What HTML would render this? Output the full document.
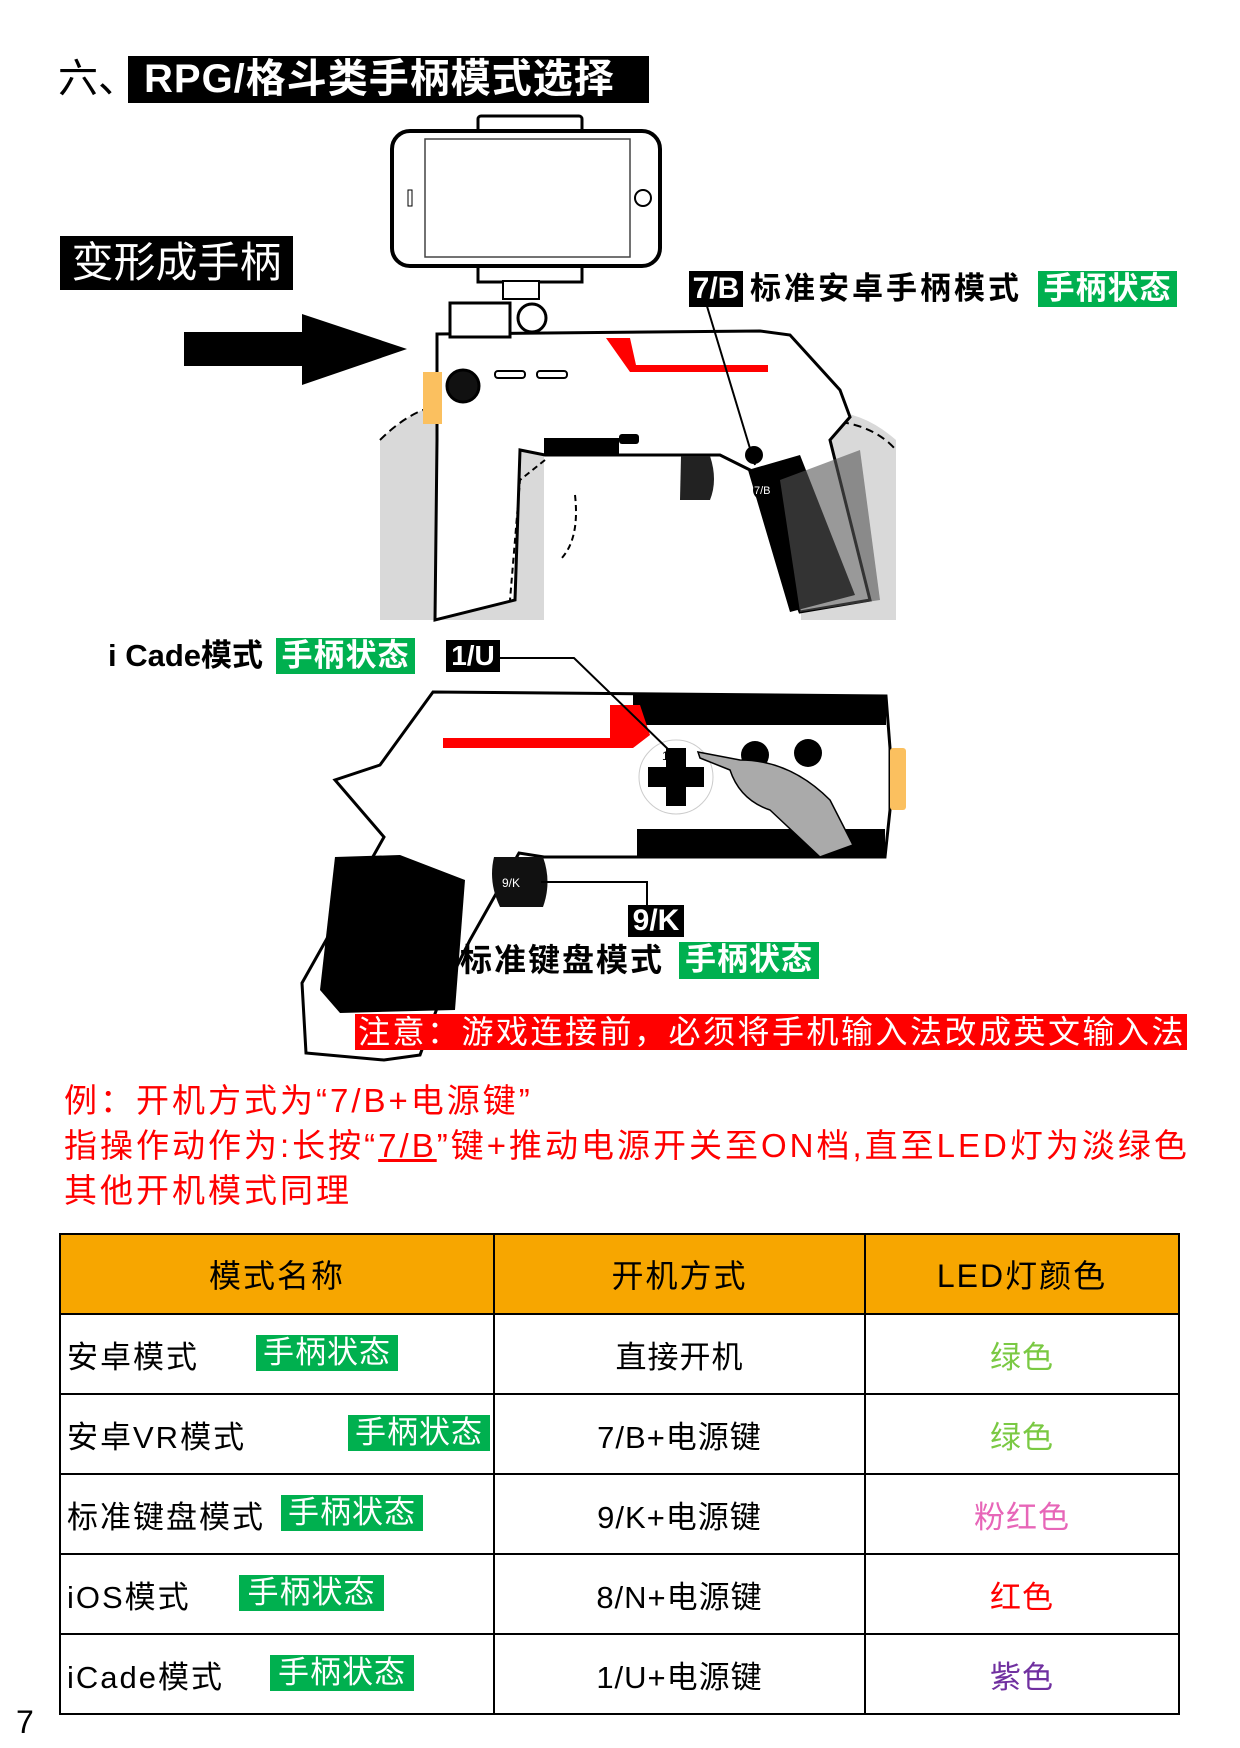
<!DOCTYPE html>
<html><head><meta charset="utf-8"><style>
*{margin:0;padding:0;box-sizing:border-box}
body{width:1240px;height:1748px;background:#fff;position:relative;overflow:hidden;font-family:"Liberation Sans","Noto Sans CJK SC",sans-serif}
.a{position:absolute;white-space:nowrap}
.g{position:absolute;background:#00b04f;color:#fff;font-size:31px;line-height:36px;text-align:center;font-weight:bold;letter-spacing:1px}
.bk{position:absolute;background:#000;color:#fff;font-weight:bold;text-align:center}
.red{color:#f00;font-size:33px;line-height:45px;letter-spacing:3px}
table{position:absolute;left:59px;top:1233px;width:1121px;border-collapse:collapse;font-size:31px}
td{border:2px solid #000;height:80px;text-align:center;position:relative;letter-spacing:1px}
th{background:#f7a600;border:2px solid #000;height:80px;font-weight:normal;font-size:32px;letter-spacing:2px}
td.l{text-align:left;padding-left:6px;letter-spacing:2px}
</style></head><body>
<div class="a" style="left:58px;top:56px;font-size:40px;line-height:47px">六、</div>
<div class="bk" style="left:128px;top:56px;width:521px;height:47px;font-size:40px;line-height:47px;text-align:left;padding-left:16px;letter-spacing:1px">RPG/格斗类手柄模式选择</div>
<div class="bk" style="left:60px;top:236px;width:233px;height:54px;font-size:42px;line-height:54px;font-weight:normal">变形成手柄</div>

<svg class="a" style="left:0;top:0" width="1240" height="1100">
<rect x="184" y="332" width="125" height="34" fill="#000"/>
<polygon points="302,314 407,349 302,385" fill="#000"/>
<rect x="478" y="116" width="104" height="20" rx="3" fill="#fff" stroke="#000" stroke-width="3"/>
<rect x="478" y="262" width="104" height="20" fill="#fff" stroke="#000" stroke-width="3"/>
<rect x="392" y="131" width="268" height="135" rx="18" fill="#fff" stroke="#000" stroke-width="4"/>
<rect x="425" y="139" width="205" height="118" fill="#fff" stroke="#444" stroke-width="1.5"/>
<circle cx="643" cy="198" r="8" fill="none" stroke="#000" stroke-width="2"/>
<rect x="408" y="190" width="4" height="16" fill="none" stroke="#000"/>
<rect x="503" y="281" width="36" height="18" fill="#fff" stroke="#000" stroke-width="2"/>
<path d="M380,440 Q420,400 460,405 L544,420 L544,620 L380,620 Z" fill="#d9d9d9"/>
<path d="M380,440 Q420,400 460,405" fill="none" stroke="#000" stroke-width="2" stroke-dasharray="8,5"/>
<path d="M801,417 Q850,400 896,440 L896,620 L801,620 Z" fill="#d9d9d9"/>
<path d="M815,420 Q870,420 896,450" fill="none" stroke="#000" stroke-width="2" stroke-dasharray="8,5"/>
<path d="M437,334 L760,331 L790,335 L840,390 L850,417 L830,440 L860,560 L870,600 L800,612 L780,560 L750,470 L720,455 L545,455 L520,450 L515,600 L435,620 L437,440 Z" fill="#fff" stroke="#000" stroke-width="3"/>
<rect x="423" y="372" width="19" height="52" fill="#fbc05f"/>
<rect x="450" y="303" width="60" height="34" fill="#fff" stroke="#000" stroke-width="3"/>
<circle cx="532" cy="318" r="14" fill="#fff" stroke="#000" stroke-width="3"/>
<circle cx="463" cy="386" r="16" fill="#111" stroke="#000" stroke-width="3"/>
<rect x="495" y="371" width="30" height="7" rx="3" fill="none" stroke="#000" stroke-width="2"/>
<rect x="537" y="371" width="30" height="7" rx="3" fill="none" stroke="#000" stroke-width="2"/>
<polygon points="606,338 630,338 636,365 768,365 768,372 630,372" fill="#f00"/>
<rect x="544" y="438" width="75" height="16" fill="#000"/>
<rect x="619" y="434" width="20" height="10" rx="3" fill="#000"/>
<path d="M681,456 L710,456 Q718,480 710,500 L680,500 Z" fill="#222"/>
<path d="M748,470 L800,455 L855,595 L790,612 Z" fill="#000"/>
<path d="M780,480 L860,450 L880,600 L800,612 Z" fill="#555" opacity=".6"/>
<circle cx="754" cy="455" r="9" fill="#000"/>
<circle cx="763" cy="490" r="10" fill="#000"/>
<text x="754" y="494" font-size="11" fill="#fff" font-family="Liberation Sans">7/B</text>
<path d="M545,460 L520,480 L510,600 M575,495 Q580,540 560,560" fill="none" stroke="#000" stroke-width="2" stroke-dasharray="6,4"/>
<line x1="703" y1="293" x2="755" y2="465" stroke="#000" stroke-width="2"/>
<path d="M433,692 L886,696 L890,748 L890,810 L885,857 L637,857 L544,857 L519,853 L470,940 L440,1000 L420,1055 L384,1060 L306,1053 L302,983 L384,837 L335,780 L380,765 Z" fill="#fff" stroke="#000" stroke-width="3"/>
<rect x="633" y="695" width="253" height="30" fill="#000"/>
<rect x="637" y="829" width="248" height="28" fill="#000"/>
<rect x="650" y="730" width="236" height="96" fill="#fff"/>
<rect x="890" y="748" width="16" height="62" rx="3" fill="#fbc05f"/>
<polygon points="443,738 610,738 610,705 640,705 650,735 633,748 443,748" fill="#f00"/>
<path d="M335,857 L400,855 L465,880 L455,1010 L340,1013 L320,990 Z" fill="#000"/>
<circle cx="676" cy="777" r="37" fill="#fff" stroke="#ccc"/>
<rect x="666" y="748" width="20" height="58" fill="#000"/>
<rect x="648" y="767" width="56" height="20" fill="#000"/>
<text x="662" y="760" font-size="12" fill="#000" font-family="Liberation Sans">1/U</text>
<circle cx="755" cy="755" r="14" fill="#000"/>
<circle cx="808" cy="753" r="14" fill="#000"/>
<path d="M698,752 L740,760 Q790,760 830,800 L853,845 L820,857 L770,810 Q740,800 730,770 L700,758 Z" fill="#aaa" stroke="#000" stroke-width="1.5"/>
<path d="M494,857 L543,857 Q552,882 543,907 L500,907 Q488,882 494,857 Z" fill="#111"/>
<text x="502" y="887" font-size="12" fill="#fff" font-family="Liberation Sans">9/K</text>
<polyline points="500,658 574,658 672,753" fill="none" stroke="#000" stroke-width="2"/>
<polyline points="541,882 647,882 647,907" fill="none" stroke="#000" stroke-width="2"/>
</svg>

<div class="bk" style="left:689px;top:271px;width:54px;height:36px;font-size:30px;line-height:36px">7/B</div>
<div class="a" style="left:750px;top:271px;font-size:31px;line-height:36px;font-weight:bold;letter-spacing:3px">标准安卓手柄模式</div>
<div class="g" style="left:1038px;top:271px;width:139px;height:36px">手柄状态</div>

<div class="a" style="left:108px;top:638px;font-size:31px;line-height:36px;font-weight:bold">i Cade模式</div>
<div class="g" style="left:276px;top:638px;width:139px;height:36px">手柄状态</div>
<div class="bk" style="left:446px;top:640px;width:54px;height:32px;font-size:28px;line-height:32px">1/U</div>

<div class="bk" style="left:628px;top:905px;width:56px;height:32px;font-size:30px;line-height:32px">9/K</div>
<div class="a" style="left:460px;top:942px;font-size:32px;line-height:37px;font-weight:bold;letter-spacing:2px">标准键盘模式</div>
<div class="g" style="left:679px;top:942px;width:140px;height:37px">手柄状态</div>

<div class="a" style="left:355px;top:1014px;width:832px;height:36px;background:#f00;color:#fff;font-size:32px;line-height:36px;padding-left:3px;letter-spacing:2.5px">注意：游戏连接前，必须将手机输入法改成英文输入法</div>

<div class="a red" style="left:64px;top:1078px">例：开机方式为“7/B+电源键”</div>
<div class="a red" style="left:64px;top:1123px">指操作动作为:长按“<u>7/B</u>”键+推动电源开关至ON档,直至LED灯为淡绿色</div>
<div class="a red" style="left:64px;top:1168px">其他开机模式同理</div>

<table>
<tr><th style="width:434px">模式名称</th><th style="width:371px">开机方式</th><th>LED灯颜色</th></tr>
<tr><td class="l">安卓模式<span class="g" style="left:195px;top:20px;width:142px;height:36px;font-weight:normal">手柄状态</span></td><td>直接开机</td><td style="color:#7ac943">绿色</td></tr>
<tr><td class="l">安卓VR模式<span class="g" style="left:287px;top:20px;width:142px;height:36px;font-weight:normal">手柄状态</span></td><td>7/B+电源键</td><td style="color:#7ac943">绿色</td></tr>
<tr><td class="l">标准键盘模式<span class="g" style="left:220px;top:20px;width:142px;height:36px;font-weight:normal">手柄状态</span></td><td>9/K+电源键</td><td style="color:#e766b8">粉红色</td></tr>
<tr><td class="l">iOS模式<span class="g" style="left:178px;top:20px;width:145px;height:36px;font-weight:normal">手柄状态</span></td><td>8/N+电源键</td><td style="color:#f00">红色</td></tr>
<tr><td class="l">iCade模式<span class="g" style="left:209px;top:20px;width:144px;height:36px;font-weight:normal">手柄状态</span></td><td>1/U+电源键</td><td style="color:#7030a0">紫色</td></tr>
</table>
<div class="a" style="left:16px;top:1702px;font-size:32px;line-height:40px">7</div>
</body></html>
